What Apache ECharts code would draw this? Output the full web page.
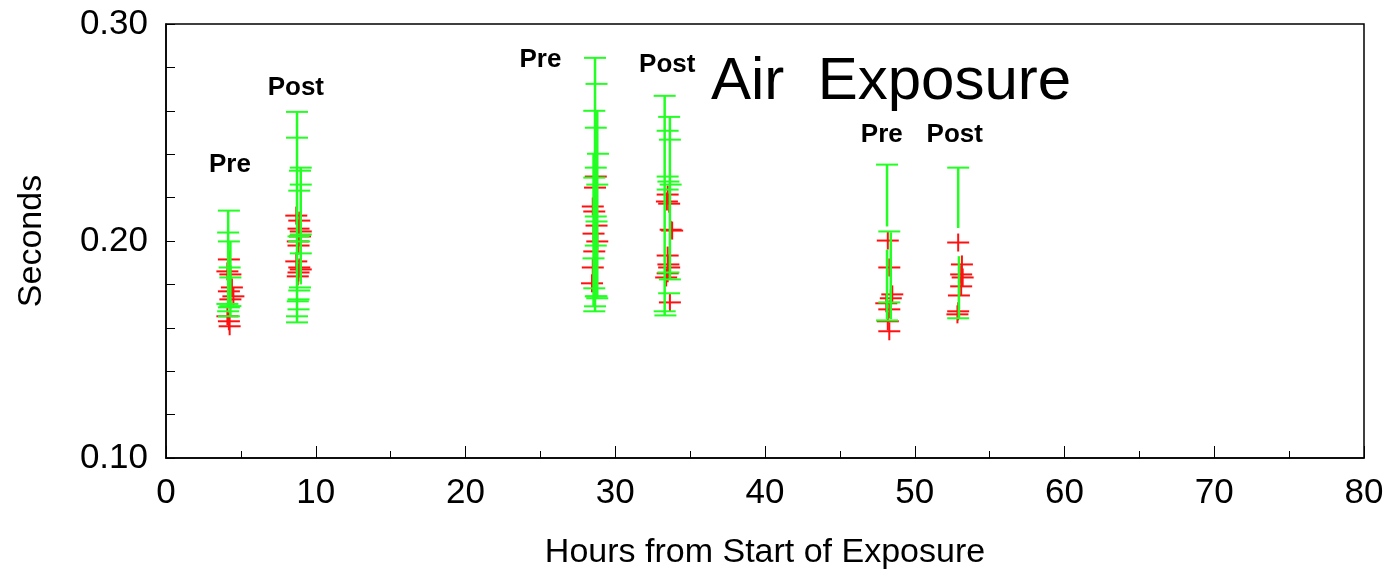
<!DOCTYPE html>
<html>
<head>
<meta charset="utf-8">
<script src="https://cdn.jsdelivr.net/npm/echarts@6/dist/echarts.min.js"></script>
<style>
html, body { margin: 0; padding: 0; background: #fff; }
#main { width: 1389px; height: 575px; }
</style>
</head>
<body>
<div id="main"></div>
<script>
// x ticks / y ticks
var xTicks = [0, 10, 20, 30, 40, 50, 60, 70, 80];
var yTicks = [0.10, 0.20, 0.30];

// green vertical ranges: [hours, low, high]
var greenLines = [
	[4.15, 0.1694, 0.2140], [4.3, 0.1653, 0.1998],
	[8.75, 0.1625, 0.2595], [9.0, 0.1800, 0.2338],
	[28.65, 0.1676, 0.2844], [28.8, 0.1736, 0.2600], [28.55, 0.1699, 0.2402],
	[33.3, 0.1657, 0.2669], [33.65, 0.1823, 0.2572],
	[48.15, 0.2067, 0.2352], [48.4, 0.1640, 0.2040], [48.15, 0.1640, 0.1960],
	[52.9, 0.2060, 0.2338], [52.95, 0.1644, 0.1930]
];

// green caps: [hours, seconds]
var greenCaps = [
	[4.2, 0.2140], [4.15, 0.2039], [4.2, 0.1998], [4.25, 0.1878], [4.3, 0.1832],
	[4.2, 0.1694], [4.3, 0.1700], [4.1, 0.1710], [4.15, 0.1676], [4.2, 0.1653],
	[8.75, 0.2595], [8.75, 0.2476], [9.0, 0.2338], [8.95, 0.2324], [9.0, 0.2260],
	[8.9, 0.2232], [9.0, 0.2030], [8.85, 0.2021], [8.9, 0.1998], [9.0, 0.1943],
	[8.95, 0.1786], [8.9, 0.1772], [8.85, 0.1731], [8.8, 0.1722], [8.85, 0.1685],
	[8.75, 0.1653], [8.75, 0.1625],
	[28.65, 0.2844], [28.75, 0.2724], [28.6, 0.2600], [28.7, 0.2522], [28.85, 0.2402],
	[28.7, 0.2338], [28.6, 0.2292], [28.8, 0.2260], [28.7, 0.2113], [28.75, 0.2090],
	[28.7, 0.1979], [28.55, 0.1920], [28.6, 0.1782], [28.75, 0.1745], [28.8, 0.1736],
	[28.7, 0.1745], [28.65, 0.1699], [28.6, 0.1676],
	[33.3, 0.2669], [33.6, 0.2572], [33.5, 0.2508], [33.65, 0.2467], [33.5, 0.2297],
	[33.55, 0.2274], [33.7, 0.2260], [33.5, 0.2237], [33.55, 0.1855], [33.65, 0.1823],
	[33.6, 0.1759], [33.3, 0.1676], [33.35, 0.1657],
	[48.15, 0.2352], [48.3, 0.2044], [48.3, 0.1717], [48.15, 0.1634],
	[52.9, 0.2338], [52.9, 0.1644]
];

// red points: [hours, seconds]
var redPoints = [
	[4.2, 0.1915], [4.1, 0.1860], [4.3, 0.1846], [4.4, 0.1786], [4.2, 0.1768],
	[4.5, 0.1745], [4.3, 0.1731], [4.1, 0.1653], [4.2, 0.1630], [4.25, 0.1607],
	[8.7, 0.2117], [8.9, 0.2094], [8.85, 0.2057], [9.0, 0.2044], [8.95, 0.2021],
	[8.8, 0.1998], [8.85, 0.1979], [8.7, 0.1906], [8.9, 0.1878], [9.0, 0.1869],
	[8.85, 0.1855], [8.8, 0.1837],
	[28.7, 0.2297], [28.65, 0.2246], [28.5, 0.2159], [28.6, 0.2136], [28.75, 0.2071],
	[28.55, 0.2034], [28.8, 0.1998], [28.6, 0.1952], [28.5, 0.1878], [28.45, 0.1805],
	[33.5, 0.2214], [33.45, 0.2182], [33.6, 0.2172], [33.8, 0.2048], [33.7, 0.2052],
	[33.5, 0.1933], [33.55, 0.1892], [33.6, 0.1878], [33.5, 0.1851], [33.4, 0.1832],
	[33.65, 0.1717],
	[48.2, 0.2002], [48.3, 0.1878], [48.5, 0.1754], [48.4, 0.1736], [48.1, 0.1713],
	[48.3, 0.1685], [48.2, 0.1630], [48.3, 0.1584],
	[52.9, 0.1993], [53.15, 0.1892], [53.1, 0.1846], [53.2, 0.1832], [53.1, 0.1791],
	[52.95, 0.1749], [52.9, 0.1676], [52.85, 0.1662]
];

// Pre / Post labels: [hours, seconds]
var noteText = ['Pre', 'Post', 'Pre', 'Post', 'Pre', 'Post'];
var notePos = [[4.27, 0.2352], [8.67, 0.2706], [25.0, 0.2834], [33.47, 0.2811], [47.8, 0.249], [52.67, 0.249]];

var FONT = '"Liberation Sans", Arial, sans-serif';
var GREEN = '#22ff22';
var RED = '#ff1010';

var myChart = echarts.init(document.getElementById('main'));

function lineRender(params, api) {
	var p1 = api.coord([api.value(0), api.value(1)]);
	var p2 = api.coord([api.value(0), api.value(2)]);
	return {
		type : 'line',
		shape : { x1 : p1[0], y1 : p1[1], x2 : p2[0], y2 : p2[1] },
		style : { stroke : GREEN, lineWidth : 2.5 }
	};
}
function capRender(params, api) {
	var p = api.coord([api.value(0), api.value(1)]);
	return {
		type : 'line',
		shape : { x1 : p[0] - 11, y1 : p[1], x2 : p[0] + 11, y2 : p[1] },
		style : { stroke : GREEN, lineWidth : 2 }
	};
}
function plusRender(params, api) {
	var p = api.coord([api.value(0), api.value(1)]);
	return {
		type : 'group',
		children : [ {
			type : 'line',
			shape : { x1 : p[0] - 11, y1 : p[1], x2 : p[0] + 11, y2 : p[1] },
			style : { stroke : RED, lineWidth : 2 }
		}, {
			type : 'line',
			shape : { x1 : p[0], y1 : p[1] - 9, x2 : p[0], y2 : p[1] + 9 },
			style : { stroke : RED, lineWidth : 2 }
		} ]
	};
}
function noteRender(params, api) {
	var p = api.coord([api.value(0), api.value(1)]);
	return {
		type : 'text',
		x : p[0],
		y : p[1],
		style : {
			text : noteText[params.dataIndex],
			fill : '#000',
			font : 'bold 26px ' + FONT,
			textAlign : 'center',
			textVerticalAlign : 'middle'
		}
	};
}

var option = {
	animation : false,
	backgroundColor : '#fff',
	title : {
		text : 'Air  Exposure',
		left : 706,
		top : 47,
		textStyle : { fontFamily : FONT, fontSize : 60, fontWeight : 'normal', color : '#000' }
	},
	grid : {
		left : 166,
		right : 25,
		top : 24,
		bottom : 116,
		show : true,
		borderColor : '#000',
		borderWidth : 1.5,
		backgroundColor : 'transparent'
	},
	xAxis : {
		type : 'value',
		min : xTicks[0],
		max : xTicks[xTicks.length - 1],
		interval : 10,
		name : 'Hours from Start of Exposure',
		nameLocation : 'middle',
		nameGap : 78,
		nameTextStyle : { fontFamily : FONT, fontSize : 34, color : '#000' },
		axisLine : { lineStyle : { color : '#000', width : 1.5 } },
		axisTick : { inside : true, length : 12, lineStyle : { color : '#000' } },
		minorTick : { show : true, splitNumber : 2, length : 7, lineStyle : { color : '#000' } },
		splitLine : { show : false },
		axisLabel : { fontFamily : FONT, fontSize : 35, color : '#000', margin : 18 }
	},
	yAxis : {
		type : 'value',
		min : yTicks[0],
		max : yTicks[yTicks.length - 1],
		interval : 0.1,
		name : 'Seconds',
		nameLocation : 'middle',
		nameGap : 117,
		nameTextStyle : { fontFamily : FONT, fontSize : 34, color : '#000' },
		axisLine : { lineStyle : { color : '#000', width : 1.5 } },
		axisTick : { inside : true, length : 9, lineStyle : { color : '#000' } },
		minorTick : { show : true, splitNumber : 5, length : 9, lineStyle : { color : '#000' } },
		splitLine : { show : false },
		axisLabel : {
			fontFamily : FONT, fontSize : 35, color : '#000', margin : 18,
			formatter : function(v) { return v.toFixed(2); }
		}
	},
	series : [ {
		type : 'custom',
		renderItem : plusRender,
		data : redPoints,
		z : 2
	}, {
		type : 'custom',
		renderItem : lineRender,
		data : greenLines,
		z : 3
	}, {
		type : 'custom',
		renderItem : capRender,
		data : greenCaps,
		z : 3
	}, {
		type : 'custom',
		renderItem : noteRender,
		data : notePos,
		z : 4
	} ]
};
myChart.setOption(option);
</script>
</body>
</html>
